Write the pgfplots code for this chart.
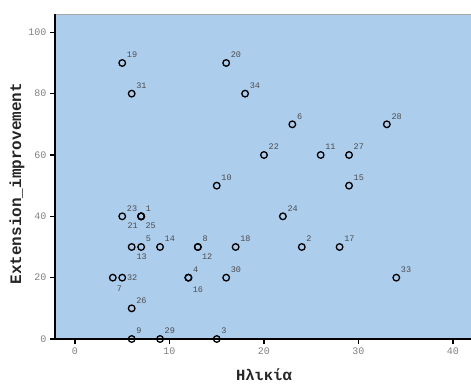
\documentclass[border=0pt]{standalone}
\usepackage{pgfplots}
\pgfplotsset{compat=1.18}
\usepackage{pgfplotstable}
\usepackage{fontspec}
\setmainfont{Liberation Mono}
\definecolor{bgblue}{HTML}{ADCDED}

\pgfplotstableread{
case x y
1 7 40
2 24 30
3 15 0
4 12 20
5 7 30
6 23 70
7 4 20
8 13 30
9 6 0
10 15 50
11 26 60
12 13 30
13 6 30
14 9 30
15 29 50
16 12 20
17 28 30
18 17 30
19 5 90
20 16 90
21 7 40
22 20 60
23 5 40
24 22 40
25 7 40
26 6 10
27 29 60
28 33 70
29 9 0
30 16 20
31 6 80
32 5 20
33 34 20
34 18 80
}\data

\pgfplotstableread{
x y dx dy lab
7 40 4.5 8 1
24 30 4.5 8 2
15 0 4.5 8 3
12 20 4.5 8 4
7 30 4.5 8 5
23 70 4.5 8 6
13 30 4.5 8 8
6 0 4.5 8 9
15 50 4.5 8 10
26 60 4.5 8 11
9 30 4.5 8 14
29 50 4.5 8 15
28 30 4.5 8 17
17 30 4.5 8 18
5 90 4.5 8 19
16 90 4.5 8 20
20 60 4.5 8 22
5 40 4.5 8 23
22 40 4.5 8 24
6 10 4.5 8 26
29 60 4.5 8 27
33 70 4.5 8 28
9 0 4.5 8 29
16 20 4.5 8 30
6 80 4.5 8 31
34 20 4.5 8 33
18 80 4.5 8 34
7 40 -13.7 -9 21
7 40 4.3 -9 25
7 30 -4.7 -10 13
13 30 4 -10 12
4 20 4 -11 7
5 20 4.7 0 32
12 20 4.3 -12 16
}\labels

\begin{document}
\begin{tikzpicture}
\useasboundingbox (-55pt,-44pt) rectangle (416pt,339pt);
\begin{axis}[
  at={(0pt,0pt)}, anchor=south west,
  scale only axis, width=420pt, height=325pt,
  xmin=-2.116, xmax=42.33, ymin=0, ymax=105.97,
  axis lines=left,
  axis line style={-, black, line width=1.4pt},
  axis background/.style={fill=bgblue, draw=gray!70},
  clip=false,
  xtick={0,10,20,30,40}, ytick={0,20,40,60,80,100},
  minor tick num=0,
  tick align=outside, major tick length=5pt,
  tick style={black, line width=1.2pt},
  /pgf/number format/assume math mode=true,
  tick label style={font=\fontsize{10}{11}\selectfont, text=gray},
  xlabel={Ηλικία},
  ylabel={Extension\_improvement},
  xlabel style={font=\fontsize{15.5}{17}\selectfont\bfseries, text=black!85,
    at={(axis description cs:0.4976,-0.111)}, anchor=center},
  ylabel style={font=\fontsize{16}{18}\selectfont\bfseries, text=black!85,
    at={(axis description cs:-0.0905,0.478)}, anchor=center},
]
\addplot[only marks, mark=o, mark size=3.3pt, mark options={black, line width=1.3pt}]
  table[x=x, y=y] {\data};
\addplot[draw=none, mark=none,
  visualization depends on={\thisrow{dx} \as \dx},
  visualization depends on={\thisrow{dy} \as \dy},
  point meta=explicit symbolic,
  nodes near coords,
  nodes near coords style={anchor=west, xshift=\dx pt, yshift=\dy pt, inner sep=0pt,
    font=\fontsize{8.5}{9}\selectfont, text=black!70}]
  table[x=x, y=y, meta=lab] {\labels};
\end{axis}
\end{tikzpicture}
\end{document}
